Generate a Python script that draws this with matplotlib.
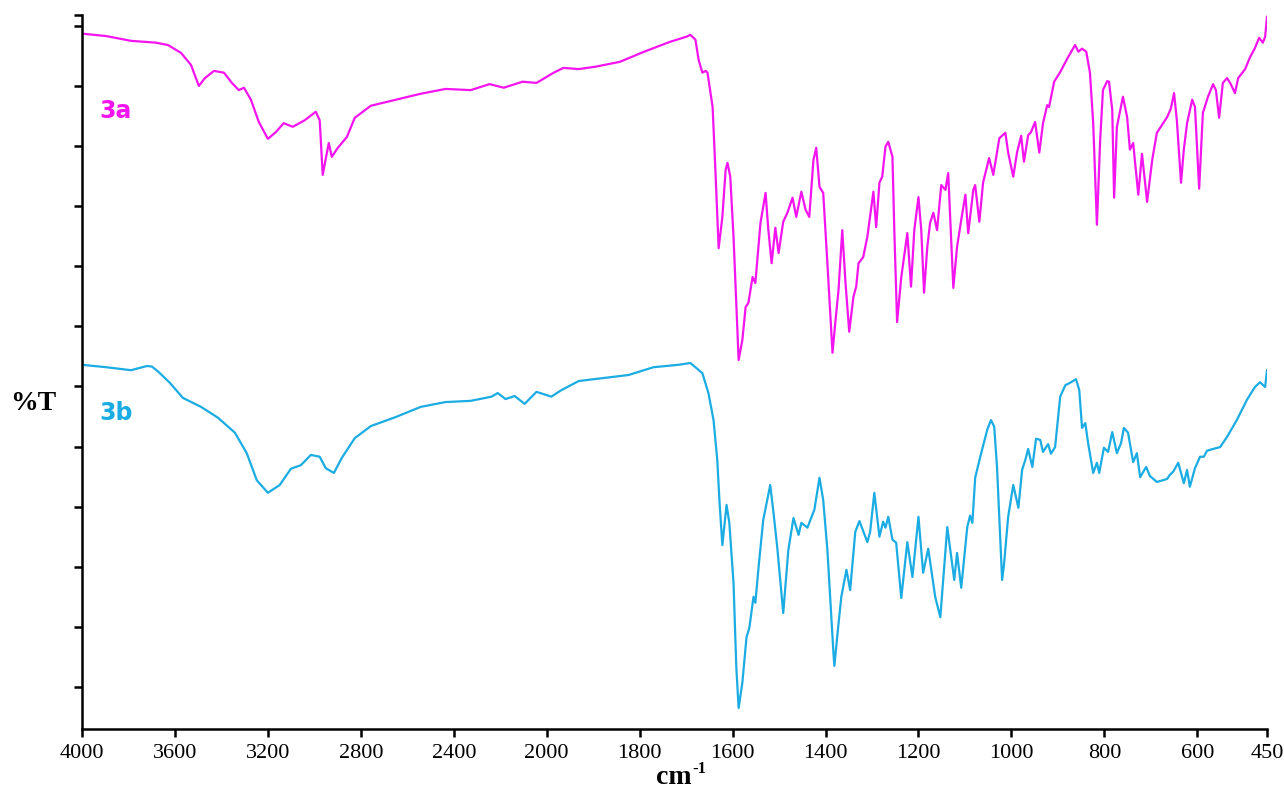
import numpy as np
import matplotlib
matplotlib.use('Agg')
import matplotlib.pyplot as plt

w_3a = [4000, 3897, 3789, 3682, 3630, 3574, 3531, 3497, 3471, 3432, 3389, 3355, 3325, 3303, 3273, 3239,
        3200, 3166, 3132, 3093, 3041, 2994, 2977, 2964, 2938, 2925, 2899, 2860, 2826, 2757, 2650, 2542,
        2435, 2327, 2246, 2185, 2104, 2044, 1985, 1964, 1931, 1895, 1843, 1790, 1736, 1699, 1691, 1680,
        1673, 1665, 1658, 1654, 1643, 1637, 1630, 1622, 1615, 1611, 1605, 1598, 1587, 1579, 1572, 1566,
        1557, 1551, 1540, 1529, 1523, 1516, 1508, 1501, 1491, 1482, 1471, 1463, 1452, 1443, 1435, 1426,
        1420, 1413, 1405, 1396, 1385, 1379, 1372, 1364, 1357, 1349, 1340, 1334, 1329, 1319, 1310, 1297,
        1291, 1284, 1278, 1271, 1265, 1256, 1252, 1246, 1237, 1224, 1216, 1209, 1200, 1194, 1188, 1181,
        1175, 1168, 1160, 1151, 1142, 1136, 1125, 1117, 1108, 1099, 1093, 1082, 1078, 1069, 1061, 1048,
        1039, 1026, 1013, 1007, 996, 988, 979, 973, 964, 958, 949, 940, 932, 923, 919, 908, 895, 878,
        863, 856, 848, 839, 831, 824, 816, 809, 803, 794, 790, 783, 779, 773, 760, 751, 745, 738, 727,
        719, 708, 697, 687, 676, 665, 657, 650, 644, 635, 629, 622, 611, 605, 596, 588, 577, 566, 560,
        553, 545, 536, 528, 519, 512, 497, 487, 476, 467, 459, 454, 450]
t_3a = [108.7, 108.3, 107.5, 107.2, 106.8, 105.5, 103.5, 100.0, 101.3, 102.5, 102.2, 100.5, 99.3, 99.7,
        97.7, 94.0, 91.2, 92.3, 93.8, 93.2, 94.3, 95.7, 94.3, 85.2, 90.5, 88.2, 89.7, 91.5, 94.7, 96.7,
        97.7, 98.7, 99.5, 99.3, 100.3, 99.7, 100.7, 100.5, 102.2, 103.0, 102.8, 103.2, 104.0, 105.7,
        107.3, 108.2, 108.5, 107.7, 104.3, 102.2, 102.5, 102.2, 96.5, 86.0, 73.0, 78.2, 86.0, 87.2, 84.9,
        74.9, 54.4, 57.7, 63.2, 63.9, 68.2, 67.2, 77.2, 82.2, 76.0, 70.5, 76.4, 72.2, 77.4, 78.9, 81.4,
        78.2, 82.4, 79.4, 78.2, 87.7, 89.7, 83.2, 82.2, 70.5, 55.6, 60.6, 66.1, 76.0, 67.2, 59.1, 64.9,
        66.6, 70.5, 71.5, 74.9, 82.4, 76.5, 83.9, 84.9, 89.9, 90.7, 88.2, 76.0, 60.7, 68.2, 75.5, 66.6,
        76.0, 81.5, 76.0, 65.6, 73.2, 77.2, 78.9, 76.0, 83.5, 82.7, 85.5, 66.4, 73.2, 77.7, 81.9, 75.5,
        82.7, 83.5, 77.4, 83.9, 88.0, 85.2, 91.3, 92.2, 88.9, 84.9, 88.9, 91.7, 87.4, 91.8, 92.3, 94.0,
        88.9, 93.8, 96.8, 96.5, 100.7, 102.3, 104.8, 106.8, 105.7, 106.2, 105.7, 102.2, 93.8, 76.9,
        91.0, 99.3, 100.8, 100.7, 96.0, 81.4, 93.2, 98.2, 94.8, 89.4, 90.5, 81.9, 88.7, 80.7, 87.7, 92.2,
        93.5, 94.8, 96.2, 98.8, 94.3, 83.9, 89.4, 93.8, 97.7, 96.5, 82.9, 95.5, 98.2, 100.3, 99.3, 94.7,
        100.5, 101.3, 100.3, 98.8, 101.3, 102.8, 104.7, 106.3, 108.0, 107.2, 108.2, 111.5]

w_3b = [4000, 3897, 3789, 3720, 3699, 3673, 3622, 3566, 3488, 3415, 3342, 3291, 3248, 3200, 3149, 3101,
        3058, 3015, 2977, 2951, 2916, 2882, 2826, 2757, 2650, 2542, 2435, 2327, 2237, 2211, 2177, 2138,
        2095, 2044, 1990, 1968, 1931, 1878, 1824, 1770, 1716, 1691, 1680, 1665, 1652, 1641, 1633, 1628,
        1622, 1613, 1607, 1598, 1592, 1587, 1579, 1570, 1564, 1555, 1551, 1544, 1534, 1519, 1512, 1504,
        1491, 1480, 1469, 1458, 1452, 1439, 1430, 1424, 1413, 1405, 1396, 1383, 1381, 1372, 1366, 1355,
        1347, 1336, 1327, 1310, 1304, 1295, 1284, 1276, 1271, 1265, 1256, 1248, 1237, 1224, 1213, 1200,
        1190, 1179, 1164, 1153, 1138, 1123, 1117, 1108, 1095, 1089, 1084, 1078, 1067, 1052, 1044, 1037,
        1031, 1024, 1020, 1016, 1007, 996, 985, 977, 970, 964, 955, 947, 938, 932, 921, 915, 906, 895,
        884, 874, 861, 854, 848, 841, 835, 824, 816, 811, 801, 792, 783, 773, 764, 758, 749, 738, 730,
        723, 710, 702, 687, 665, 659, 652, 641, 629, 622, 616, 605, 594, 586, 579, 566, 551, 536, 515,
        493, 476, 465, 454, 450]
t_3b = [53.6, 53.2, 52.7, 53.4, 53.3, 52.5, 50.6, 48.1, 46.6, 44.8, 42.3, 38.9, 34.4, 32.3, 33.6, 36.3,
        36.9, 38.6, 38.3, 36.4, 35.6, 38.1, 41.4, 43.4, 44.9, 46.6, 47.4, 47.6, 48.3, 48.9, 47.9, 48.4,
        47.1, 49.1, 48.3, 49.4, 50.9, 51.4, 51.9, 53.2, 53.6, 53.9, 53.2, 52.2, 48.9, 44.4, 37.8, 30.6,
        23.6, 30.3, 27.3, 17.3, 3.3, -3.5, 0.7, 8.3, 9.8, 15.0, 14.0, 20.0, 27.8, 33.6, 29.0, 23.3, 12.3,
        22.8, 28.1, 25.3, 27.3, 26.5, 28.3, 29.5, 34.8, 31.1, 22.8, 5.7, 3.5, 10.6, 15.0, 19.5, 16.1,
        25.8, 27.6, 24.1, 25.8, 32.3, 25.0, 27.5, 26.5, 28.3, 24.5, 24.0, 14.8, 24.1, 18.3, 28.3, 19.0,
        23.0, 15.0, 11.6, 26.6, 17.8, 22.3, 16.5, 26.6, 28.5, 27.3, 34.8, 38.3, 42.8, 44.4, 43.3, 36.6,
        24.5, 17.8, 20.3, 28.3, 33.6, 29.8, 36.1, 37.8, 39.6, 36.6, 41.3, 41.1, 39.1, 40.4, 38.8, 39.9,
        48.3, 50.2, 50.6, 51.2, 49.4, 43.1, 43.9, 40.6, 35.6, 37.3, 35.6, 39.8, 39.1, 42.4, 38.9, 40.6,
        43.1, 42.3, 37.4, 38.9, 34.9, 36.6, 35.1, 34.1, 34.6, 35.3, 35.8, 37.3, 33.9, 36.1, 33.3, 36.4,
        38.3, 38.3, 39.3, 39.6, 39.9, 41.6, 44.4, 47.8, 49.9, 50.7, 49.9, 52.7]

x_ticks = [4000, 3600, 3200, 2800, 2400, 2000, 1800, 1600, 1400, 1200, 1000, 800, 600, 450]
y_ticks = list(range(0, 111, 10)) + [111.8]

color_3a = '#F414F0'
color_3b = '#1AACE3'


# escala con cambio de factor en 2000 cm-1
def forward(w):
    w = np.asarray(w, dtype=float)
    return np.where(w > 2000, 2000 + (w - 2000) / 2.0, w)


def inverse(u):
    u = np.asarray(u, dtype=float)
    return np.where(u > 2000, 2000 + (u - 2000) * 2.0, u)


serif = 'Liberation Serif'

fig = plt.figure(figsize=(12.84, 7.90), dpi=100)
ax = fig.add_axes([82 / 1284, 61 / 790, 1185 / 1284, 714 / 790])

ax.plot(w_3a, t_3a, color=color_3a, lw=1.6)
ax.plot(w_3b, t_3b, color=color_3b, lw=1.6)

ax.set_xscale('function', functions=(forward, inverse))
ax.set_xlim(4000, 450)
ax.set_ylim(-7.0, 111.8)
ax.set_xticks(x_ticks)
ax.set_xticklabels([str(v) for v in x_ticks], family=serif, fontsize=16)
ax.set_yticks(y_ticks)
ax.set_yticklabels([])
ax.minorticks_off()

for s in ['top', 'right']:
    ax.spines[s].set_visible(False)
for s in ['left', 'bottom']:
    ax.spines[s].set_linewidth(1.8)
ax.tick_params(axis='both', direction='out', length=6, width=1.8, colors='black')
ax.tick_params(axis='x', pad=5)

# etiquetas de los ejes
fig.text(656 / 1284, 1 - 778 / 790, 'cm', family=serif, fontweight='bold', fontsize=20,
         va='center', ha='left')
fig.text(692 / 1284, 1 - 769 / 790, '-1', family=serif, fontweight='bold', fontsize=12,
         va='center', ha='left')
fig.text(10 / 1284, 1 - 403 / 790, '%T', family=serif, fontweight='bold', fontsize=20,
         va='center', ha='left')

ax.text(0.015, 0.866, '3a', transform=ax.transAxes, color=color_3a, fontsize=17,
        fontweight='bold', family='DejaVu Sans', va='center')
ax.text(0.015, 0.443, '3b', transform=ax.transAxes, color=color_3b, fontsize=17,
        fontweight='bold', family='DejaVu Sans', va='center')

fig.savefig('out.png', dpi=100)
